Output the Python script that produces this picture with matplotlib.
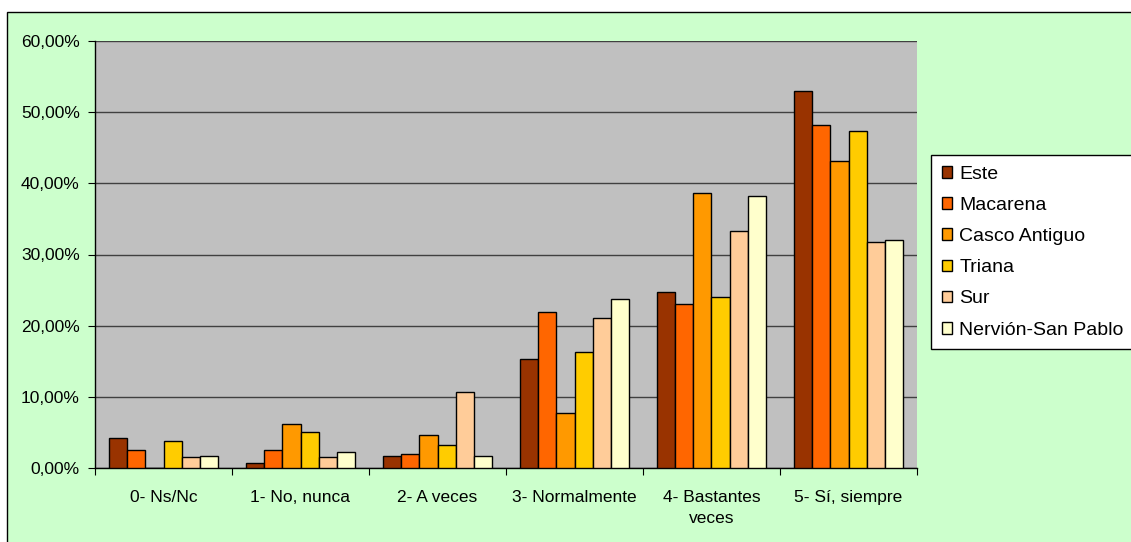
import matplotlib
matplotlib.use("Agg")
import matplotlib.pyplot as plt
from matplotlib.patches import Rectangle
import numpy as np

plt.rcParams['font.family'] = ['Liberation Sans', 'DejaVu Sans']

categories = ["0- Ns/Nc", "1- No, nunca", "2- A veces", "3- Normalmente", "4- Bastantes\nveces", "5- Sí, siempre"]
series_names = ["Este", "Macarena", "Casco Antiguo", "Triana", "Sur", "Nervión-San Pablo"]
este = [4.2, 0.7, 1.7, 15.3, 24.8, 53.0]
macarena = [2.5, 2.5, 1.9, 21.9, 23.1, 48.2]
casco = [0.0, 6.2, 4.6, 7.7, 38.6, 43.2]
triana = [3.8, 5.1, 3.3, 16.3, 24.0, 47.4]
sur = [1.5, 1.5, 10.7, 21.1, 33.3, 31.7]
nervion = [1.7, 2.3, 1.7, 23.8, 38.2, 32.1]
series_values = [este, macarena, casco, triana, sur, nervion]
colors = ["#993300", "#FF6600", "#FF9900", "#FFCC00", "#FFCC99", "#FFFFCC"]
yticks = [0, 10, 20, 30, 40, 50, 60]
ytick_labels = ["0,00%", "10,00%", "20,00%", "30,00%", "40,00%", "50,00%", "60,00%"]

W, H = 1131, 542
fig = plt.figure(figsize=(W/100, H/100), dpi=100)
fig.patch.set_facecolor("white")
# outer chart area
bg = Rectangle((7/W, -0.1), 1.2, 1.1 - 12/H, transform=fig.transFigure,
               facecolor="#CCFFCC", edgecolor="black", linewidth=1, zorder=-10)
fig.patches.append(bg)

ax = fig.add_axes([95/W, 1 - 468/H, (917-95)/W, (468-41)/H])
ax.set_zorder(1)
ax.set_facecolor("#C0C0C0")

n = len(series_names)
bw = 1.0 / (n + 1.5)
x = np.arange(len(categories))
for i, (name, vals, c) in enumerate(zip(series_names, series_values, colors)):
    offs = (i - (n - 1) / 2) * bw
    ax.bar(x + offs, vals, width=bw, color=c, edgecolor="black", linewidth=1, label=name, zorder=3)

ax.set_xlim(-0.5, len(categories) - 0.5)
ax.set_ylim(0, 60)
ax.set_yticks(yticks)
ax.set_yticklabels(ytick_labels, fontsize=12.5)
ax.yaxis.grid(True, color="#404040", linewidth=1, zorder=1)
ax.set_axisbelow(True)
ax.set_xticks(np.arange(len(categories) + 1) - 0.5)
ax.set_xticklabels([])
ax.set_xticks(x, minor=True)
ax.set_xticklabels(categories, minor=True, fontsize=12.5, linespacing=1.5)
ax.tick_params(axis='x', which='minor', length=0, pad=16)
ax.tick_params(axis='x', which='major', length=5, direction='out', color='black')
ax.tick_params(axis='y', length=5, direction='out', color='black', pad=6)
for s in ["top", "right"]:
    ax.spines[s].set_visible(False)
for s in ["left", "bottom"]:
    ax.spines[s].set_color("black")
    ax.spines[s].set_linewidth(1)

leg = fig.legend(loc="upper left", bbox_to_anchor=(931/W, 1 - 155/H), bbox_transform=fig.transFigure,
                 fontsize=14, frameon=True, fancybox=False, edgecolor="black", framealpha=1,
                 facecolor="white", handlelength=0.55, handleheight=0.55, handletextpad=0.35,
                 labelspacing=0.73, borderpad=0.55, borderaxespad=0)
leg.get_frame().set_linewidth(1)
leg.set_zorder(5)

fig.savefig("out.png", dpi=100, facecolor=fig.get_facecolor())
